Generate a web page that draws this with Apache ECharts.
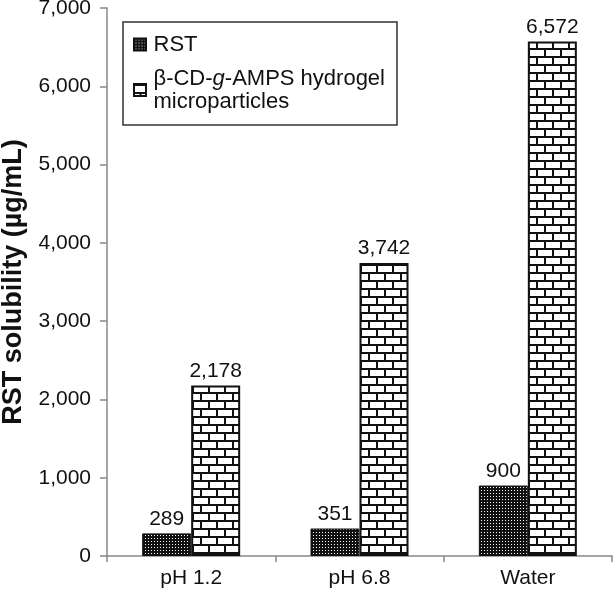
<!DOCTYPE html>
<html>
<head>
<meta charset="utf-8">
<script src="https://cdn.jsdelivr.net/npm/echarts@6/dist/echarts.min.js"></script>
<style>
  html, body { margin: 0; padding: 0; background: #fff; }
  #chart { width: 615px; height: 595px; }
</style>
</head>
<body>
<div id="chart"></div>
<script>
const categories = ['pH 1.2', 'pH 6.8', 'Water'];
const rstValues = [289, 351, 900];
const hydrogelValues = [2178, 3742, 6572];
const seriesNames = ['RST', 'β-CD-g-AMPS hydrogel microparticles'];

// dotted dark fill for RST
function dotPattern() {
  const c = document.createElement('canvas');
  c.width = 3; c.height = 3;
  const ctx = c.getContext('2d');
  ctx.fillStyle = '#111';
  ctx.fillRect(0, 0, 3, 3);
  ctx.fillStyle = '#fff';
  ctx.fillRect(1, 1, 1, 1);
  return c;
}

// brick fill for the hydrogel
function brickPattern() {
  const c = document.createElement('canvas');
  c.width = 16; c.height = 16;
  const ctx = c.getContext('2d');
  ctx.fillStyle = '#fff';
  ctx.fillRect(0, 0, 16, 16);
  ctx.fillStyle = '#111';
  ctx.fillRect(0, 0, 16, 2);
  ctx.fillRect(0, 8, 16, 2);
  ctx.fillRect(0, 0, 2, 8);
  ctx.fillRect(8, 8, 2, 8);
  return c;
}

const rstFill = { image: dotPattern(), repeat: 'repeat' };
const brickFill = { image: brickPattern(), repeat: 'repeat' };

const chart = echarts.init(document.getElementById('chart'));

const labelStyle = {
  show: true,
  position: 'top',
  distance: 4,
  color: '#111',
  fontSize: 21,
  formatter: p => p.value.toLocaleString('en-US')
};

chart.setOption({
  animation: false,
  textStyle: { fontFamily: 'Liberation Sans, Arial, sans-serif' },
  grid: { left: 107, right: 3, top: 8, bottom: 39, outerBoundsMode: 'none', containLabel: false },
  legend: {
    orient: 'vertical',
    left: 123,
    top: 22,
    padding: [11, 12, 12, 10],
    itemGap: 11,
    itemWidth: 17,
    itemHeight: 12,
    icon: 'path://M0,0h10v10h-10z',
    symbolKeepAspect: true,
    borderColor: '#333',
    borderWidth: 1.5,
    borderRadius: 0,
    backgroundColor: '#fff',
    data: seriesNames,
    formatter: name => name === seriesNames[1]
      ? 'β-CD-{i|g}-AMPS hydrogel\nmicroparticles'
      : name,
    textStyle: {
      fontSize: 22,
      color: '#111',
      lineHeight: 23,
      rich: {
        i: { fontStyle: 'italic', fontSize: 22, color: '#111', lineHeight: 23 }
      }
    }
  },
  xAxis: {
    type: 'category',
    data: categories,
    axisLine: { lineStyle: { color: '#888', width: 1.5 } },
    axisTick: { show: true, length: 6, lineStyle: { color: '#888', width: 1.5 } },
    axisLabel: { color: '#111', fontSize: 21, margin: 12 }
  },
  yAxis: {
    type: 'value',
    min: 0,
    max: 7000,
    interval: 1000,
    name: 'RST solubility (µg/mL)',
    nameLocation: 'middle',
    nameGap: 80,
    nameTextStyle: { fontSize: 27, fontWeight: 'bold', color: '#111' },
    splitLine: { show: false },
    axisLine: { show: true, lineStyle: { color: '#888', width: 1.5 } },
    axisTick: { show: true, length: 7, lineStyle: { color: '#888', width: 1.5 } },
    axisLabel: {
      color: '#111',
      fontSize: 21,
      margin: 16,
      formatter: v => v.toLocaleString('en-US')
    }
  },
  series: [
    {
      name: seriesNames[0],
      type: 'bar',
      data: rstValues,
      barWidth: 49,
      barGap: '0%',
      itemStyle: { color: rstFill, borderColor: '#111', borderWidth: 1 },
      label: labelStyle
    },
    {
      name: seriesNames[1],
      type: 'bar',
      data: hydrogelValues,
      barWidth: 49,
      itemStyle: { color: brickFill, borderColor: '#111', borderWidth: 2 },
      label: labelStyle
    }
  ]
});
</script>
</body>
</html>
